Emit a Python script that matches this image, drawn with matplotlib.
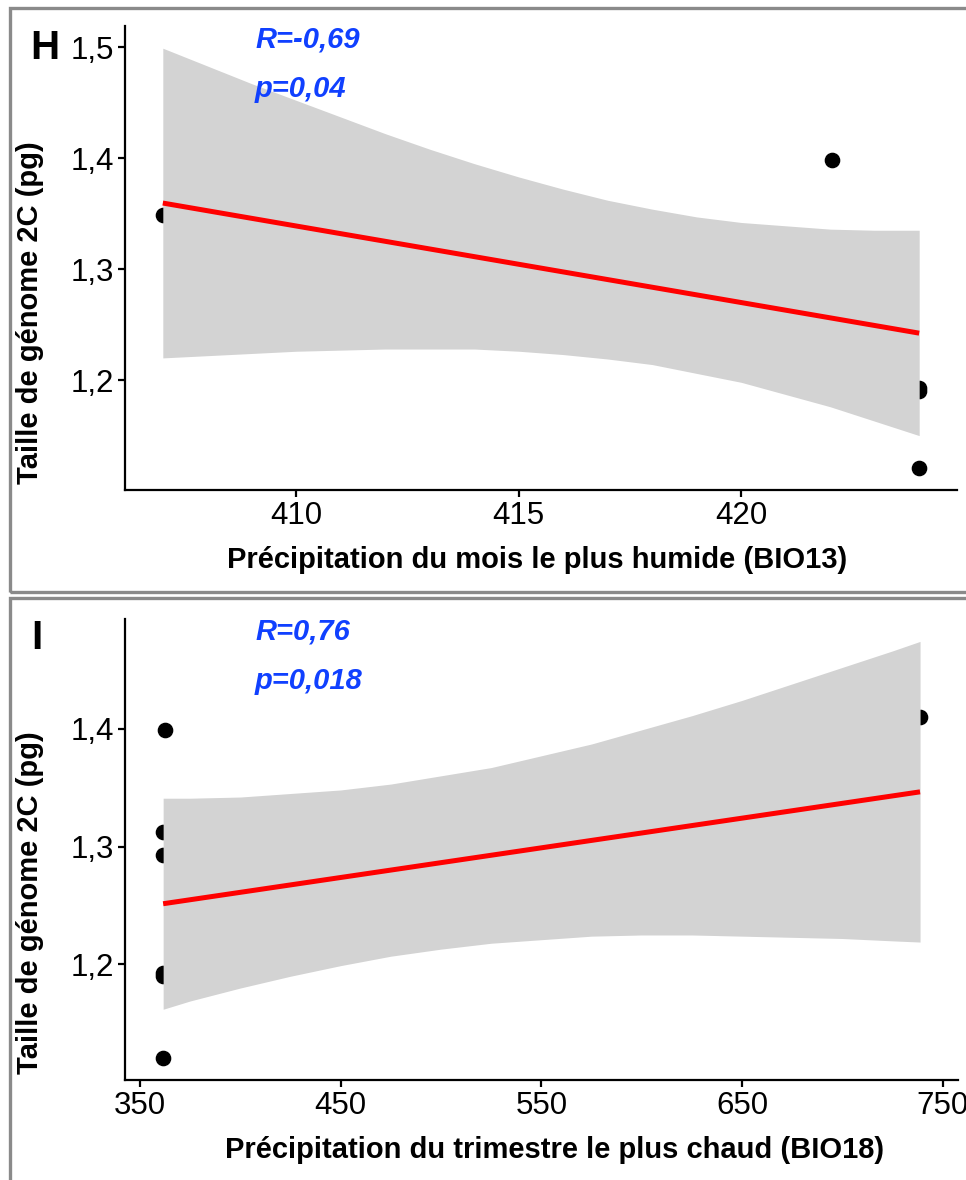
import matplotlib.pyplot as plt
from matplotlib.patches import Rectangle

plt.rcParams['font.family'] = ['Liberation Sans', 'DejaVu Sans']

FW, FH = 966, 1180

# panel H : BIO13 vs genome size
h_x = [407, 422.05, 424, 424, 424]
h_y = [1.349, 1.398, 1.193, 1.190, 1.121]
h_fit_x = [407, 424]
h_fit_y = [1.3595, 1.2423]
h_band_x = [407, 408, 409, 410, 411, 412, 413, 414, 415,
            416, 417, 418, 419, 420, 421, 422, 423, 424]
h_band_hi = [1.499, 1.483, 1.467, 1.452, 1.437, 1.422, 1.408, 1.395, 1.383,
             1.372, 1.362, 1.354, 1.347, 1.342, 1.339, 1.336, 1.335, 1.335]
h_band_lo = [1.220, 1.222, 1.224, 1.226, 1.227, 1.228, 1.228, 1.228, 1.226,
             1.223, 1.219, 1.214, 1.206, 1.198, 1.187, 1.176, 1.163, 1.150]
h_xticks = [410, 415, 420]
h_yticks = [1.2, 1.3, 1.4, 1.5]

# panel I : BIO18 vs genome size
i_x = [362.5, 361.6, 361.6, 361.6, 361.6, 361.6, 738.6]
i_y = [1.399, 1.312, 1.293, 1.193, 1.190, 1.121, 1.410]
i_fit_x = [361.6, 738.6]
i_fit_y = [1.2515, 1.3464]
i_band_x = [361.6, 375, 400, 425, 450, 475, 500, 525, 550,
            575, 600, 625, 650, 675, 700, 725, 738.6]
i_band_hi = [1.341, 1.341, 1.342, 1.345, 1.348, 1.353, 1.360, 1.367, 1.377,
             1.387, 1.399, 1.411, 1.424, 1.438, 1.452, 1.466, 1.474]
i_band_lo = [1.162, 1.169, 1.180, 1.190, 1.199, 1.207, 1.213, 1.218, 1.221,
             1.224, 1.225, 1.225, 1.224, 1.223, 1.222, 1.220, 1.219]
i_xticks = [350, 450, 550, 650, 750]
i_yticks = [1.2, 1.3, 1.4]

BLUE = '#1040ff'


def fx(px):
    return px / FW


def fy(py):
    return 1 - py / FH


def panel(fig, box, xlim, ylim, xs, ys, fx_, fy_, bx, blo, bhi, xt, yt):
    l, t, r, b = box
    ax = fig.add_axes([fx(l), fy(b), fx(r - l), (b - t) / FH])
    ax.scatter(xs, ys, s=105, color='black', zorder=1, clip_on=False)
    ax.fill_between(bx, blo, bhi, color='#d3d3d3', lw=0, zorder=2)
    ax.plot(fx_, fy_, color='red', lw=3.6, zorder=3, solid_capstyle='butt')
    ax.set_xlim(*xlim)
    ax.set_ylim(*ylim)
    ax.set_xticks(xt)
    ax.set_yticks(yt)
    ax.set_xticklabels([str(v) for v in xt])
    ax.set_yticklabels([('%.1f' % v).replace('.', ',') for v in yt])
    for s in ['top', 'right']:
        ax.spines[s].set_visible(False)
    for s in ['left', 'bottom']:
        ax.spines[s].set_linewidth(1.6)
    ax.tick_params(length=5, width=1.6, labelsize=22.5, pad=3, colors='black')
    ax.patch.set_alpha(0)
    return ax


fig = plt.figure(figsize=(FW / 100, FH / 100), dpi=100)

# grey frames around the two panels
fig.patches.append(Rectangle((fx(10), fy(592)), fx(970 - 10), (592 - 8) / FH,
                             transform=fig.transFigure, fill=False,
                             ec='#8a8a8a', lw=2.4))
fig.patches.append(Rectangle((fx(10), fy(1190)), fx(970 - 10), (1190 - 598) / FH,
                             transform=fig.transFigure, fill=False,
                             ec='#8a8a8a', lw=2.4))

panel(fig, (125, 26, 957, 490), (406.15, 424.85), (1.101, 1.519),
      h_x, h_y, h_fit_x, h_fit_y, h_band_x, h_band_lo, h_band_hi,
      h_xticks, h_yticks)
panel(fig, (125, 619, 958, 1080), (342.6, 757.5), (1.102, 1.493),
      i_x, i_y, i_fit_x, i_fit_y, i_band_x, i_band_lo, i_band_hi,
      i_xticks, i_yticks)

# labels
fig.text(fx(537), fy(560), 'Précipitation du mois le plus humide (BIO13)',
         ha='center', va='center', fontsize=21, fontweight='bold')
fig.text(fx(555), fy(1150), 'Précipitation du trimestre le plus chaud (BIO18)',
         ha='center', va='center', fontsize=21, fontweight='bold')
fig.text(fx(30), fy(313), 'Taille de génome 2C (pg)', rotation=90,
         ha='center', va='center', fontsize=21, fontweight='bold')
fig.text(fx(30), fy(903), 'Taille de génome 2C (pg)', rotation=90,
         ha='center', va='center', fontsize=21, fontweight='bold')

fig.text(fx(45), fy(48), 'H', ha='center', va='center', fontsize=29, fontweight='bold')
fig.text(fx(37), fy(638), 'I', ha='center', va='center', fontsize=29, fontweight='bold')

for txt, y in [('R=-0,69', 40), ('p=0,04', 89), ('R=0,76', 631), ('p=0,018', 681)]:
    fig.text(fx(255), fy(y), txt, ha='left', va='center', fontsize=21,
             fontweight='bold', fontstyle='italic', color=BLUE)

fig.savefig('out.png', dpi=100)
